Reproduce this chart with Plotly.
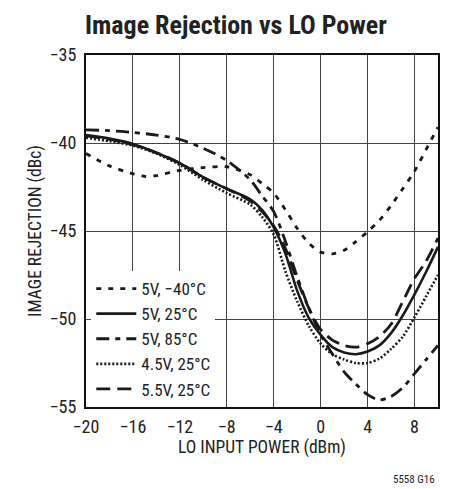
import plotly.graph_objects as go

x_pts = [-20, -18, -16, -14, -12, -10, -8, -6, -5, -4, -3, -2, -1, 0, 1, 2, 3, 4, 5, 6, 7, 8, 9, 10]

x_m40 = [-20, -18, -16, -15, -14, -12, -10, -8, -6, -5, -4, -3, -2, -1, 0, 1, 2, 3, 4, 5, 6, 7, 8, 9, 10]
y_5v_m40 = [-40.6, -41.3, -41.75, -41.9, -41.85, -41.55, -41.4, -41.35, -41.8, -42.3, -42.85, -43.8, -44.85,
            -45.7, -46.2, -46.3, -46.1, -45.6, -45.05, -44.4, -43.55, -42.6, -41.6, -40.35, -39.1]
y_5v_25 = [-39.55, -39.75, -40.05, -40.55, -41.15, -41.95, -42.6, -43.2, -43.8, -44.8, -46.3, -48.4,
           -49.95, -50.9, -51.6, -51.9, -52.0, -51.85, -51.5, -50.8, -49.8, -48.6, -47.3, -45.9]
y_5v_85 = [-39.25, -39.3, -39.4, -39.55, -39.8, -40.3, -41.0, -42.1, -43.0, -43.9, -45.6, -47.6,
           -49.4, -50.9, -52.0, -53.0, -53.7, -54.3, -54.6, -54.4, -53.9, -53.1, -52.3, -51.5]
y_45v_25 = [-39.7, -39.9, -40.15, -40.6, -41.25, -42.1, -42.85, -43.5, -44.2, -45.2, -47.3, -49.0,
            -50.4, -51.4, -52.0, -52.3, -52.5, -52.5, -52.25, -51.7, -51.0, -49.9, -48.7, -47.5]
y_55v_25 = [-39.6, -39.8, -40.1, -40.55, -41.15, -41.95, -42.6, -43.3, -43.9, -44.7, -46.0, -47.8,
            -49.4, -50.6, -51.2, -51.5, -51.6, -51.4, -51.0, -50.3, -49.0, -47.7, -46.7, -45.4]

names = ["5V, \u221240\u00b0C", "5V, 25\u00b0C", "5V, 85\u00b0C", "4.5V, 25\u00b0C", "5.5V, 25\u00b0C"]
x_ticks = [-20, -16, -12, -8, -4, 0, 4, 8]
y_ticks = [-35, -40, -45, -50, -55]

FONT = "Liberation Sans Narrow, Roboto Condensed, Arial Narrow, Liberation Sans, sans-serif"
C = "#1a1a1a"

series = [
    (x_m40, y_5v_m40, "5px,7px", 2.8),
    (x_pts, y_5v_25, "solid", 2.6),
    (x_pts, y_5v_85, "13px,6px,5px,6px", 2.8),
    (x_pts, y_45v_25, "2px,2px", 2.6),
    (x_pts, y_55v_25, "14px,7px", 2.8),
]

fig = go.Figure()
for (xs, ys, dash, w), nm in zip(series, names):
    fig.add_trace(go.Scatter(x=xs, y=ys, name=nm, mode="lines",
                             line=dict(color=C, width=w, dash=dash, shape="spline", smoothing=0.8)))

fig.update_layout(
    width=451, height=489,
    margin=dict(l=86, r=13, t=55, b=82),
    paper_bgcolor="white", plot_bgcolor="white",
    font=dict(family=FONT, color="#222", size=18),
    title=dict(text="<b>Image Rejection vs LO Power</b>", x=0.523, xanchor="center",
               y=0.95, yanchor="middle", font=dict(family=FONT, size=26, color="#222")),
    showlegend=True,
    legend=dict(x=0.015, y=0.0, xanchor="left", yanchor="bottom", bgcolor="white",
                font=dict(family=FONT, size=17, color="#222"), tracegroupgap=0,
                itemwidth=40, borderwidth=0),
)
fig.update_xaxes(range=[-20, 10], tickvals=x_ticks, showgrid=True, gridcolor="#444", gridwidth=1,
                 zeroline=False, showline=True, linecolor="#111", linewidth=2, mirror=True,
                 ticks="", tickfont=dict(size=18), ticklabelstandoff=2,
                 title=dict(text="LO INPUT POWER (dBm)", font=dict(size=17.5), standoff=4))
fig.update_yaxes(range=[-55, -35], tickvals=y_ticks, showgrid=True, gridcolor="#444", gridwidth=1,
                 zeroline=False, showline=True, linecolor="#111", linewidth=2, mirror=True,
                 ticks="", tickfont=dict(size=18), ticklabelstandoff=4,
                 title=dict(text="IMAGE REJECTION (dBc)", font=dict(size=17.5), standoff=3))
fig.add_annotation(text="5558 G16", xref="paper", yref="paper", x=0.997, y=-0.207,
                   xanchor="right", yanchor="middle", showarrow=False,
                   font=dict(family=FONT, size=11, color="#222"))
fig.write_html("out.html", post_script="document.body.style.margin='0';",
               config={"displayModeBar": False})
